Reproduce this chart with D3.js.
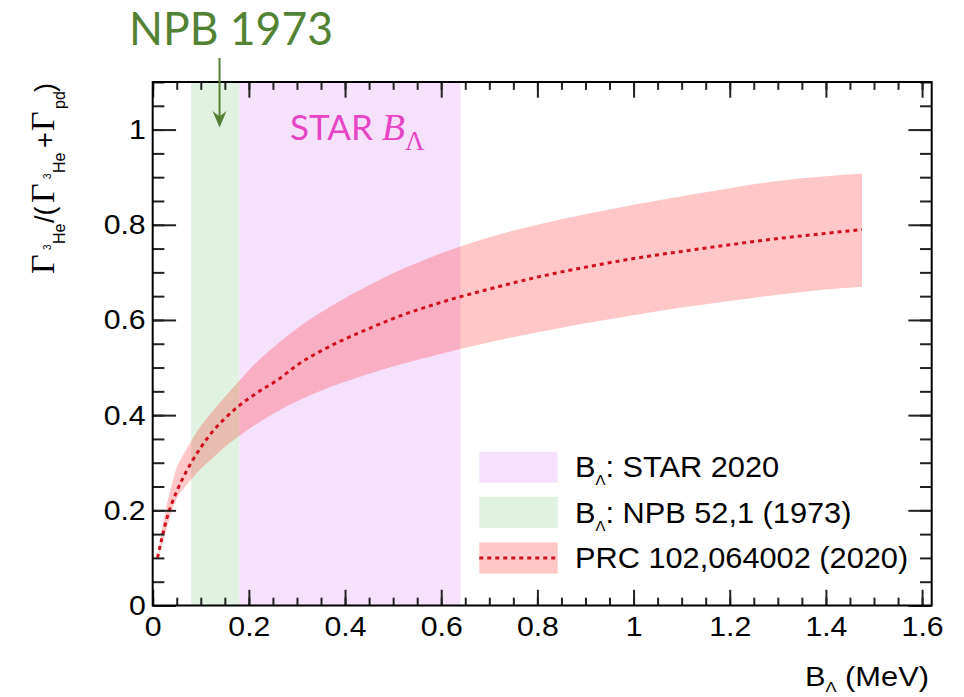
<!DOCTYPE html>
<html>
<head>
<meta charset="utf-8">
<script src="https://cdn.jsdelivr.net/npm/d3@7"></script>
<style>
  html, body { margin: 0; padding: 0; background: #ffffff; }
  svg { display: block; }
  text { font-family: "Liberation Sans", Arial, sans-serif; }
</style>
</head>
<body>
<svg id="chart" width="964" height="697"></svg>
<script>
// ---- data -------------------------------------------------------------
// binding energy grid (MeV) for the theory band
const bLambda = [0.01, 0.02, 0.03, 0.04, 0.05, 0.06, 0.08, 0.10, 0.125, 0.15, 0.18, 0.22, 0.26, 0.30,
                 0.35, 0.40, 0.45, 0.50, 0.60, 0.70, 0.80, 0.90, 1.00, 1.10, 1.20, 1.30, 1.40, 1.475];
// central ratio and its uncertainty envelope
const ratioCentral = [0.100, 0.145, 0.185, 0.215, 0.240, 0.262, 0.300, 0.332, 0.366, 0.393, 0.420, 0.449, 0.474, 0.505,
                      0.535, 0.560, 0.582, 0.603, 0.637, 0.665, 0.690, 0.711, 0.729, 0.744, 0.758, 0.771, 0.782, 0.790];
const ratioUpper   = [0.100, 0.165, 0.215, 0.255, 0.290, 0.310, 0.345, 0.377, 0.408, 0.438, 0.472, 0.515, 0.550, 0.582,
                      0.616, 0.646, 0.673, 0.698, 0.740, 0.774, 0.800, 0.822, 0.842, 0.860, 0.877, 0.892, 0.902, 0.907];
const ratioLower   = [0.100, 0.130, 0.165, 0.200, 0.225, 0.240, 0.265, 0.287, 0.310, 0.333, 0.356, 0.384, 0.408, 0.429,
                      0.451, 0.470, 0.487, 0.502, 0.529, 0.553, 0.574, 0.593, 0.610, 0.626, 0.640, 0.653, 0.664, 0.670];

// measured B_Lambda ranges
const starRange = [0.18, 0.64];
const npbRange  = [0.08, 0.18];

// axis ticks
const xMajor = [0, 0.2, 0.4, 0.6, 0.8, 1.0, 1.2, 1.4, 1.6];
const xMajorLabels = ["0", "0.2", "0.4", "0.6", "0.8", "1", "1.2", "1.4", "1.6"];
const xMinor = d3.range(0, 1.6001, 0.05);
const yMajor = [0, 0.2, 0.4, 0.6, 0.8, 1.0];
const yMajorLabels = ["0", "0.2", "0.4", "0.6", "0.8", "1"];
const yMinor = d3.range(0, 1.1001, 0.05);

// legend entries
const legendLabels = [
  { key: "star", main: "B", sub: "\u039B", rest: ": STAR 2020" },
  { key: "npb",  main: "B", sub: "\u039B", rest: ": NPB 52,1 (1973)" },
  { key: "prc",  main: "PRC 102,064002 (2020)", sub: "", rest: "" }
];

// ---- layout & scales ------------------------------------------------------
const frame = { left: 152.7, right: 931.7, top: 82, bottom: 605.5 };
const x = d3.scaleLinear().domain([0, 1.62]).range([frame.left, frame.right]);
const y = d3.scaleLinear().domain([0, 1.1]).range([frame.bottom, frame.top]);

const colors = {
  star: "#f6e1fc",
  npb: "#e1f2e2",
  band: "rgba(255, 0, 0, 0.22)",
  line: "#d0101c",
  green: "#548235",
  magenta: "#e646c6"
};

const svg = d3.select("#chart");
const H = frame.bottom - frame.top, W = frame.right - frame.left;
const xTickLen = 0.03 * H, yTickLen = 0.03 * W;

// ---- vertical measurement bands -----------------------------------------
const plot = svg.append("g");
plot.append("rect")
  .attr("x", x(starRange[0])).attr("width", x(starRange[1]) - x(starRange[0]))
  .attr("y", frame.top).attr("height", H)
  .attr("fill", colors.star);
plot.append("rect")
  .attr("x", x(npbRange[0])).attr("width", x(npbRange[1]) - x(npbRange[0]))
  .attr("y", frame.top).attr("height", H)
  .attr("fill", colors.npb);

// ---- theory band and central curve -------------------------------------
const pts = bLambda.map((b, i) => ({ b, c: ratioCentral[i], hi: ratioUpper[i], lo: ratioLower[i] }));
const area = d3.area()
  .x(d => x(d.b)).y0(d => y(d.lo)).y1(d => y(d.hi))
  .curve(d3.curveMonotoneX);
plot.append("path").datum(pts).attr("d", area).attr("fill", colors.band);

const line = d3.line().x(d => x(d.b)).y(d => y(d.c)).curve(d3.curveMonotoneX);
plot.append("path").datum(pts).attr("d", line)
  .attr("fill", "none").attr("stroke", colors.line)
  .attr("stroke-width", 3).attr("stroke-dasharray", "4,4");

// ---- axes (ticks pointing inside the frame) ------------------------------
function styleAxis(g) {
  g.select(".domain").remove();
  g.selectAll(".tick line").attr("stroke", "#222").attr("stroke-width", 2);
}
function labelFont(g) {
  g.selectAll(".tick text")
    .attr("fill", "#000")
    .style("font-family", "'Liberation Sans', Arial, sans-serif")
    .style("font-size", "28px");
}

// bottom
svg.append("g").attr("transform", `translate(0,${frame.bottom})`)
  .call(d3.axisBottom(x).tickValues(xMinor).tickSize(-xTickLen / 2).tickFormat(""))
  .call(styleAxis);
svg.append("g").attr("transform", `translate(0,${frame.bottom})`)
  .call(d3.axisBottom(x).tickValues(xMajor).tickSize(-xTickLen).tickPadding(11)
        .tickFormat((d, i) => xMajorLabels[i]))
  .call(styleAxis).call(labelFont);
// top
svg.append("g").attr("transform", `translate(0,${frame.top})`)
  .call(d3.axisTop(x).tickValues(xMinor).tickSize(-xTickLen / 2).tickFormat(""))
  .call(styleAxis);
svg.append("g").attr("transform", `translate(0,${frame.top})`)
  .call(d3.axisTop(x).tickValues(xMajor).tickSize(-xTickLen).tickFormat(""))
  .call(styleAxis);
// left
svg.append("g").attr("transform", `translate(${frame.left},0)`)
  .call(d3.axisLeft(y).tickValues(yMinor).tickSize(-yTickLen / 2).tickFormat(""))
  .call(styleAxis);
svg.append("g").attr("transform", `translate(${frame.left},0)`)
  .call(d3.axisLeft(y).tickValues(yMajor).tickSize(-yTickLen).tickPadding(7)
        .tickFormat((d, i) => yMajorLabels[i]))
  .call(styleAxis).call(labelFont);
// right
svg.append("g").attr("transform", `translate(${frame.right},0)`)
  .call(d3.axisRight(y).tickValues(yMinor).tickSize(-yTickLen / 2).tickFormat(""))
  .call(styleAxis);
svg.append("g").attr("transform", `translate(${frame.right},0)`)
  .call(d3.axisRight(y).tickValues(yMajor).tickSize(-yTickLen).tickFormat(""))
  .call(styleAxis);

// frame
svg.append("rect")
  .attr("x", frame.left).attr("y", frame.top).attr("width", W).attr("height", H)
  .attr("fill", "none").attr("stroke", "#000").attr("stroke-width", 2);

// slightly widen tick labels to match the stretched Helvetica look
svg.selectAll(".tick text").each(function () {
  const w = this.getComputedTextLength();
  this.setAttribute("textLength", w * 1.08);
  this.setAttribute("lengthAdjust", "spacingAndGlyphs");
});

// ---- axis titles -----------------------------------------------------------
const xt = svg.append("text")
  .attr("transform", `translate(805,686) scale(1.1,1)`)
  .style("font-size", "28px").attr("fill", "#000");
xt.append("tspan").text("B");
xt.append("tspan").attr("dy", 6).style("font-size", "15px").text("\u039B");
xt.append("tspan").attr("dy", -6).text(" (MeV)");

const yt = svg.append("g").attr("transform", "translate(54,274) rotate(-90)");
const yParts = [
  { t: "\u0393", x: 0,   y: 0,  size: 34, serif: true },
  { t: "3",      x: 24,  y: -3, size: 10 },
  { t: "He",     x: 30,  y: 11, size: 16 },
  { t: "/(",     x: 51,  y: 0,  size: 27 },
  { t: "\u0393", x: 71,  y: 0,  size: 34, serif: true },
  { t: "3",      x: 95,  y: -3, size: 10 },
  { t: "He",     x: 101, y: 11, size: 16 },
  { t: "+",      x: 126, y: 0,  size: 27 },
  { t: "\u0393", x: 143, y: 0,  size: 34, serif: true },
  { t: "pd",     x: 165, y: 11, size: 16 },
  { t: ")",      x: 182, y: 0,  size: 27 }
];
yt.selectAll("text").data(yParts).join("text")
  .attr("x", d => d.x).attr("y", d => d.y)
  .style("font-size", d => d.size + "px")
  .style("font-family", d => d.serif ? "'Liberation Serif', 'Times New Roman', serif" : null)
  .attr("fill", "#000")
  .text(d => d.t);

// ---- legend ----------------------------------------------------------------
const legend = svg.append("g");
const boxX = 479.3, boxW = 78.4, boxH = 31, rowTop = [451.7, 497, 542.5];
const legendFill = { star: colors.star, npb: colors.npb, prc: "rgb(255,199,199)" };
legendLabels.forEach((e, i) => {
  legend.append("rect")
    .attr("x", boxX).attr("y", rowTop[i]).attr("width", boxW).attr("height", boxH)
    .attr("fill", legendFill[e.key]);
  if (e.key === "prc") {
    legend.append("line")
      .attr("x1", boxX).attr("x2", boxX + boxW)
      .attr("y1", rowTop[i] + boxH / 2).attr("y2", rowTop[i] + boxH / 2)
      .attr("stroke", colors.line).attr("stroke-width", 3).attr("stroke-dasharray", "4,4");
  }
  const t = legend.append("text")
    .attr("transform", `translate(575,${rowTop[i] + 25.5}) scale(1.06,1)`)
    .style("font-size", "29px").attr("fill", "#000");
  t.append("tspan").text(e.main);
  if (e.sub) {
    t.append("tspan").attr("dy", 8).style("font-size", "14px").text(e.sub);
    t.append("tspan").attr("dy", -8).text(e.rest);
  }
});

// ---- annotations -----------------------------------------------------------
const arrowX = x(0.139);
svg.append("text")
  .attr("x", 129).attr("y", 45)
  .attr("textLength", 204).attr("lengthAdjust", "spacingAndGlyphs")
  .style("font-family", "Lato, 'Open Sans', sans-serif").style("font-size", "46px")
  .attr("fill", colors.green).text("NPB 1973");
svg.append("line")
  .attr("x1", arrowX).attr("x2", arrowX).attr("y1", 58).attr("y2", 120)
  .attr("stroke", colors.green).attr("stroke-width", 2);
svg.append("path")
  .attr("d", `M${arrowX},127.5 L${arrowX - 7},111 L${arrowX},116.5 L${arrowX + 7},111 Z`)
  .attr("fill", colors.green);

const star = svg.append("text").attr("x", 290).attr("y", 140).attr("fill", colors.magenta);
star.append("tspan").style("font-family", "Lato, 'Open Sans', sans-serif").style("font-size", "35px").text("STAR ");
star.append("tspan").style("font-family", "'Liberation Serif', 'DejaVu Serif', serif")
  .style("font-style", "italic").style("font-size", "38px").text("B");
star.append("tspan").attr("dy", 10)
  .style("font-family", "'Liberation Serif', 'DejaVu Serif', serif")
  .style("font-size", "27px").text("\u039B");
</script>
</body>
</html>
